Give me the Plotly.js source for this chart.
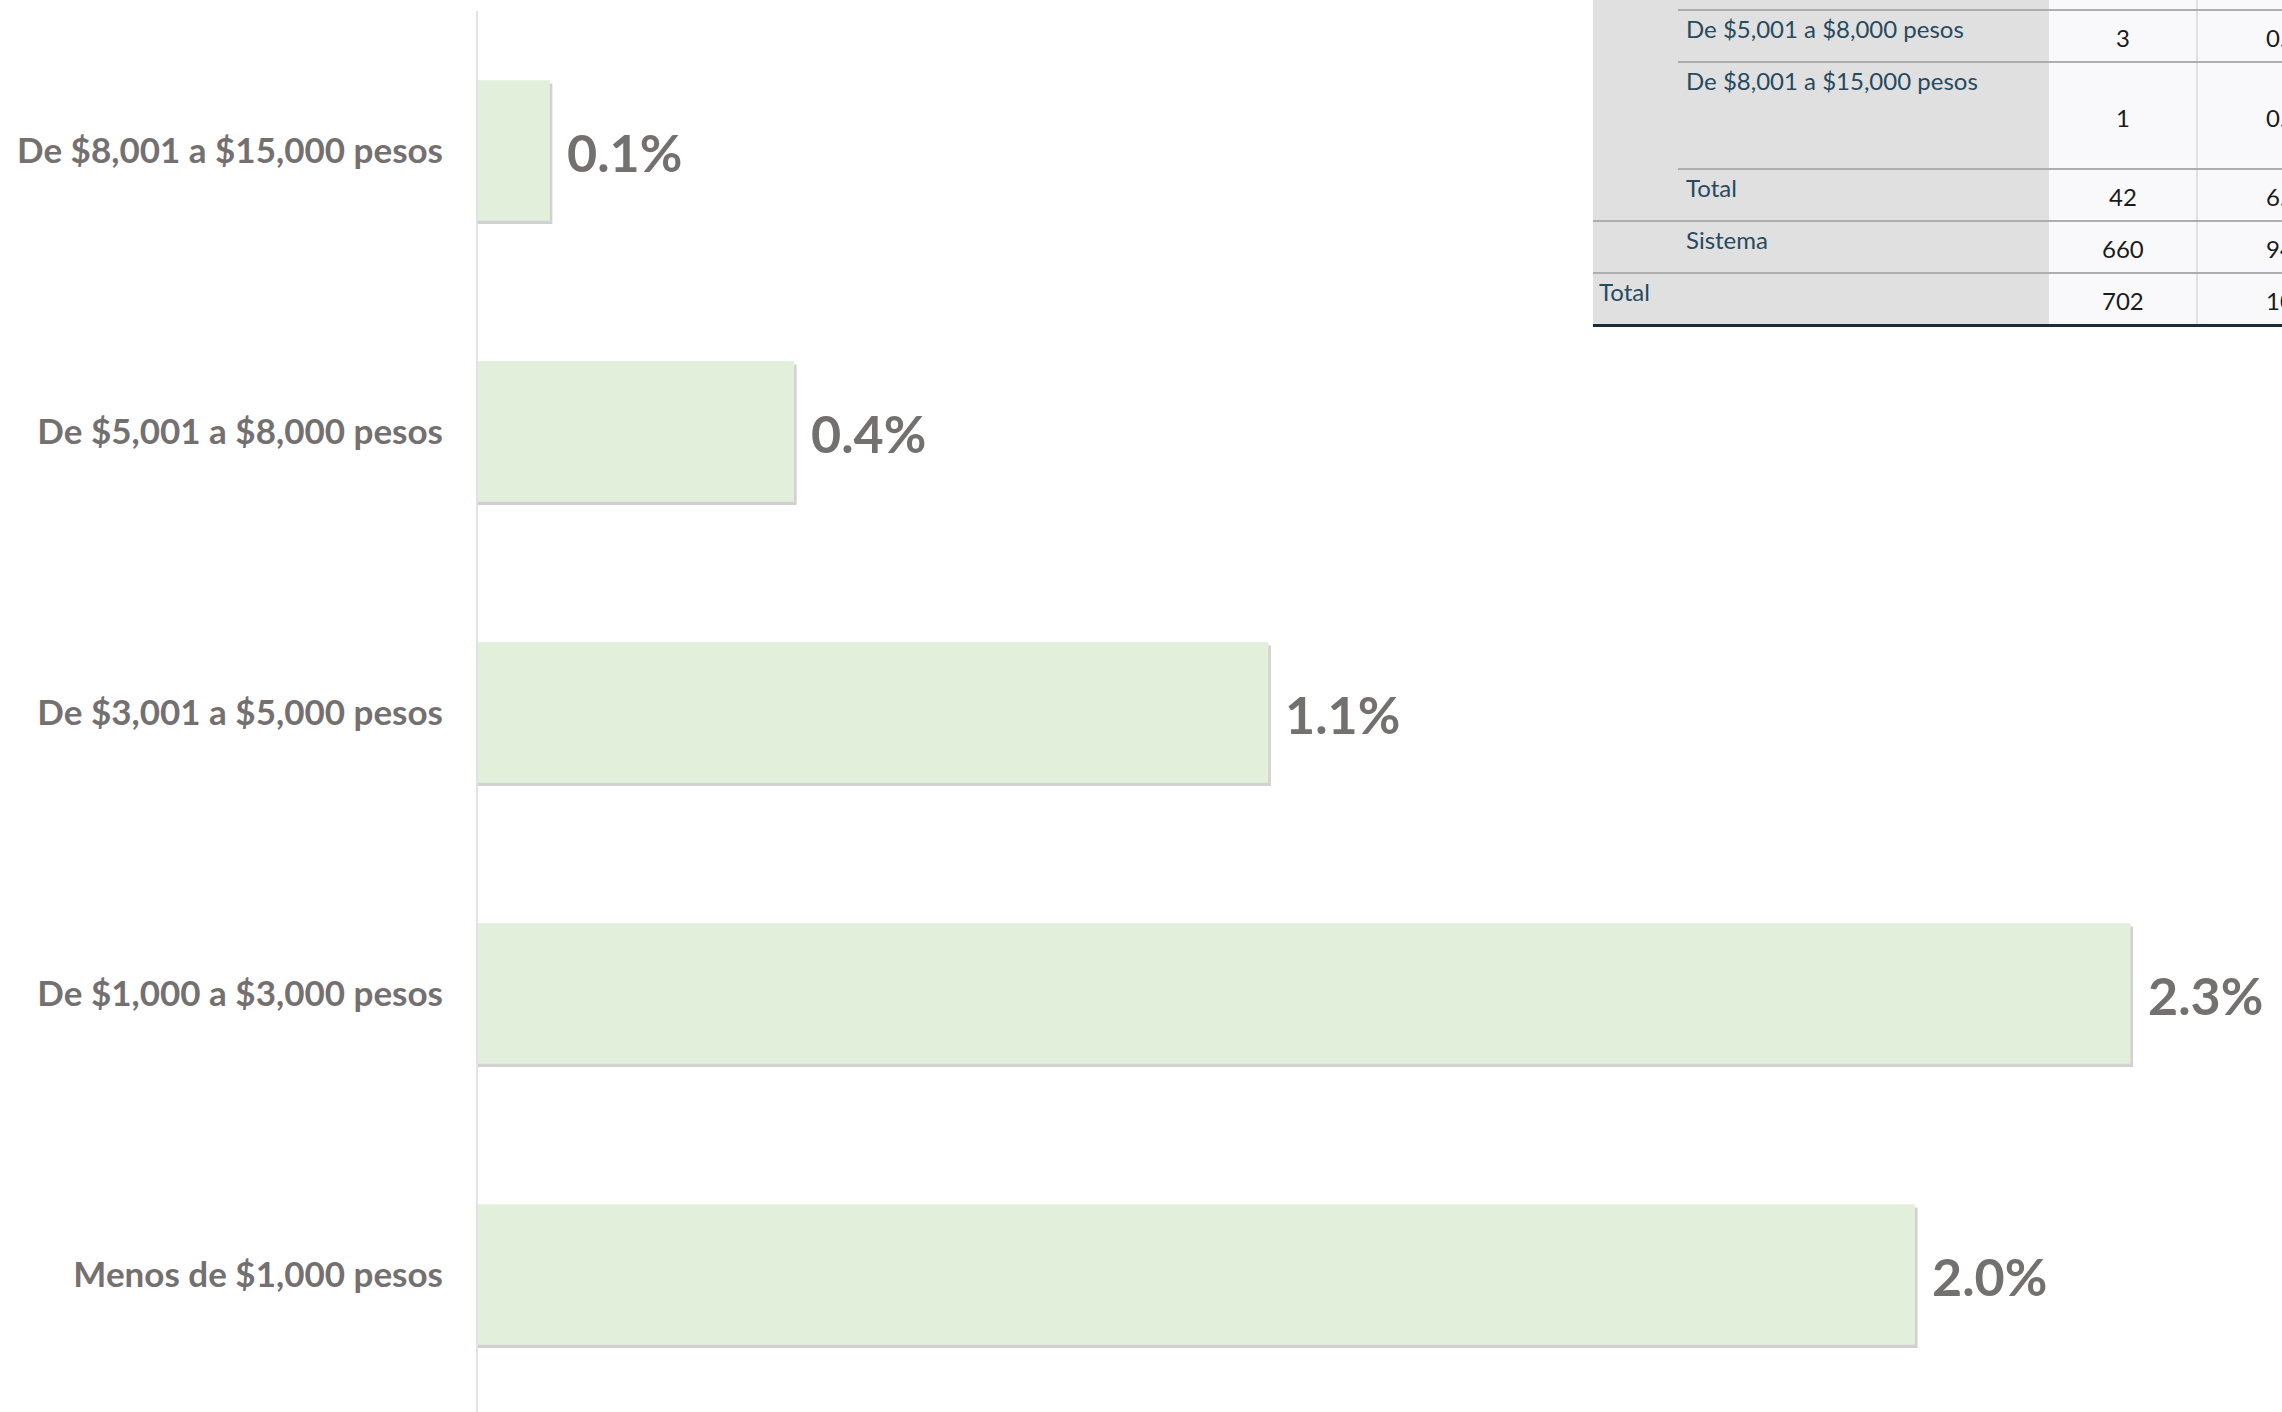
<!DOCTYPE html>
<html>
<head>
<meta charset="utf-8">
<script src="https://cdn.plot.ly/plotly-3.0.1.min.js"></script>
<style>
  html, body { margin: 0; padding: 0; background: #ffffff; }
  #chart { width: 2282px; height: 1412px; }
</style>
</head>
<body>
<div id="chart"></div>
<script>
// ---- Chart data (bottom to top on the category axis) ----
const categories = [
  "Menos de $1,000 pesos",
  "De $1,000 a $3,000 pesos",
  "De $3,001 a $5,000 pesos",
  "De $5,001 a $8,000 pesos",
  "De $8,001 a $15,000 pesos"
];
const percentValues = [2.0, 2.3, 1.1, 0.44, 0.1];

// ---- Partial table (top-right corner) ----
const tableLabels = ["De $5,001 a $8,000 pesos", "De $8,001 a $15,000 pesos", "Total", "Sistema", "Total"];
const tableFreq = ["3", "1", "42", "660", "702"];
const tablePct = ["0.4", "0.1", "6.0", "94.0", "100.0"];

// ---- Layout geometry ----
const W = 2282, H = 1412;
const ML = 478, MT = 11;
const PW = W - ML, PH = H - MT;
const PX_PER_UNIT = 718.5;
const px = x => (x - ML) / PW;
const py = y => 1 - (y - MT) / PH;

const labelColor = "#757070";
const barColor = "#e2efda";

const shadowTrace = {
  type: "bar", orientation: "h",
  y: categories,
  x: percentValues.map(v => v + 2.5 / PX_PER_UNIT),
  width: 0.5, offset: -0.262,
  marker: { color: "rgba(90,90,90,0.28)", line: { width: 0 } },
  hoverinfo: "skip", showlegend: false
};
const barTrace = {
  type: "bar", orientation: "h",
  y: categories,
  x: percentValues,
  width: 0.5, offset: -0.25,
  marker: { color: barColor, line: { width: 0 } },
  showlegend: false
};

const annotations = [];
// value labels next to bars
percentValues.forEach((v, i) => {
  annotations.push({
    x: v, y: categories[i], xref: "x", yref: "y",
    text: v.toFixed(1) + "%",
    showarrow: false, xanchor: "left", yanchor: "middle",
    xshift: 15, yshift: -2,
    font: { family: "Lato", size: 52, color: labelColor, weight: "bold" }
  });
});

// table geometry
const rowTops = [10, 62, 169, 221, 273];
const rowBottoms = [62, 169, 221, 273, 325];
const tableFont = { family: "Lato", size: 24, color: "#264a60" };
const numFont = { family: "Lato", size: 24, color: "#1a1a1a" };
tableLabels.forEach((t, i) => {
  annotations.push({
    x: px(i === 4 ? 1597 : 1684), y: py(rowTops[i] + 18),
    xref: "paper", yref: "paper", text: t, showarrow: false,
    xanchor: "left", yanchor: "middle", font: tableFont
  });
  const mid = (rowTops[i] + rowBottoms[i]) / 2 + 1.5;
  annotations.push({
    x: px(2123), y: py(mid), xref: "paper", yref: "paper",
    text: tableFreq[i], showarrow: false, xanchor: "center", yanchor: "middle", font: numFont
  });
  annotations.push({
    x: px(2264), y: py(mid), xref: "paper", yref: "paper",
    text: tablePct[i], showarrow: false, xanchor: "left", yanchor: "middle", font: numFont
  });
});

const shapes = [
  { type: "rect", xref: "paper", yref: "paper", x0: px(1593), x1: px(2049), y0: py(0), y1: py(325),
    fillcolor: "#e0e0e0", line: { width: 0 }, layer: "above" },
  { type: "rect", xref: "paper", yref: "paper", x0: px(2049), x1: px(2300), y0: py(0), y1: py(325),
    fillcolor: "#f9f9fb", line: { width: 0 }, layer: "above" },
  { type: "line", xref: "paper", yref: "paper", x0: px(2197), x1: px(2197), y0: py(0), y1: py(325),
    line: { color: "#d9d9d9", width: 1.5 }, layer: "above" }
];
const hLines = [[10, 1678], [62, 1678], [169, 1678], [221, 1593], [273, 1593]];
hLines.forEach(([y, x0]) => {
  shapes.push({ type: "line", xref: "paper", yref: "paper", x0: px(x0), x1: px(2300), y0: py(y), y1: py(y),
    line: { color: "#aeaeae", width: 2 }, layer: "above" });
});
shapes.push({ type: "line", xref: "paper", yref: "paper", x0: px(1593), x1: px(2300), y0: py(325.5), y1: py(325.5),
  line: { color: "#1d2c3a", width: 3 }, layer: "above" });

const layout = {
  width: W, height: H,
  margin: { l: ML, r: 0, t: MT, b: 0, pad: 0 },
  paper_bgcolor: "#ffffff", plot_bgcolor: "#ffffff",
  barmode: "overlay",
  showlegend: false,
  xaxis: {
    range: [0, PW / PX_PER_UNIT],
    showgrid: false, zeroline: false, showticklabels: false, showline: false, ticks: ""
  },
  yaxis: {
    type: "category",
    categoryorder: "array", categoryarray: categories,
    range: [-0.4896, 4.4964],
    showgrid: false, zeroline: false,
    showline: true, linecolor: "#dfe3e9", linewidth: 2,
    ticks: "", ticklabelstandoff: 26,
    tickfont: { family: "Lato", size: 35, color: labelColor, weight: "bold" }
  },
  annotations: annotations,
  shapes: shapes
};

Plotly.newPlot("chart", [shadowTrace, barTrace], layout, { displayModeBar: false, staticPlot: true });
</script>
</body>
</html>
